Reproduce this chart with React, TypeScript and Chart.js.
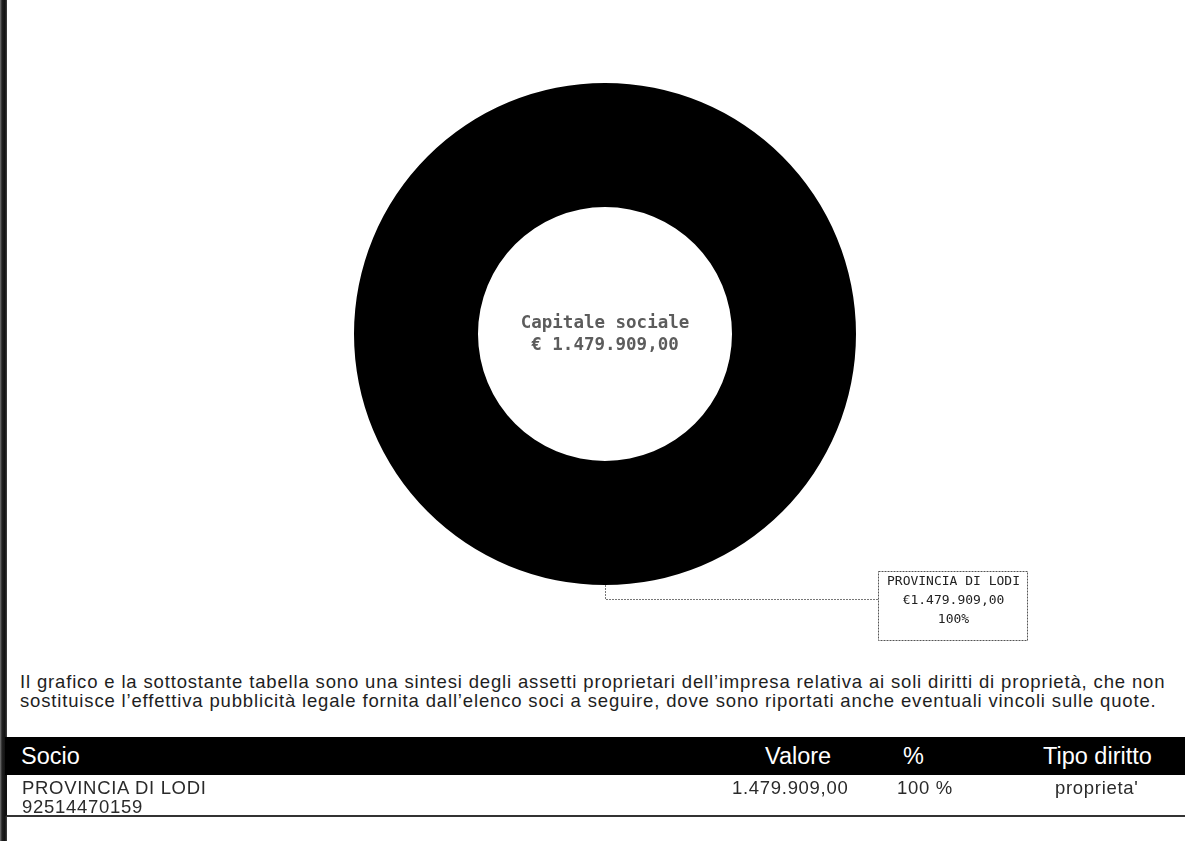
import React, { useEffect, useRef } from "react";
import { Chart, registerables } from "chart.js";

Chart.register(...registerables);

const categories: string[] = ["PROVINCIA DI LODI"];
const values: number[] = [1479909];
const percents: number[] = [100];
const taxCodes: string[] = ["92514470159"];
const rightTypes: string[] = ["proprieta'"];
const centerTitle = "Capitale sociale";
const tableHeaders: string[] = ["Socio", "Valore", "%", "Tipo diritto"];
const noteLines: string[] = [
  "Il grafico e la sottostante tabella sono una sintesi degli assetti proprietari dell’impresa relativa ai soli diritti di proprietà, che non",
  "sostituisce l’effettiva pubblicità legale fornita dall’elenco soci a seguire, dove sono riportati anche eventuali vincoli sulle quote.",
];

function fmtIt(n: number): string {
  const [i, d] = n.toFixed(2).split(".");
  return i.replace(/\B(?=(\d{3})+(?!\d))/g, ".") + "," + d;
}

const total = values.reduce((a, b) => a + b, 0);

const labelPlugin = {
  id: "labelPlugin",
  afterDraw(chart: any) {
    const ctx = chart.ctx as CanvasRenderingContext2D;
    const meta = chart.getDatasetMeta(0);
    const arc: any = meta.data[0];
    if (!arc) return;
    const { x, y } = arc;
    ctx.save();
    // center text
    ctx.fillStyle = "#5c5c5c";
    ctx.font = "bold 17.5px 'DejaVu Sans Mono'";
    ctx.textAlign = "center";
    ctx.textBaseline = "middle";
    ctx.fillText(centerTitle, x, y - 11);
    ctx.fillText("€ " + fmtIt(total), x, y + 11);

    // leader + callout for each slice
    meta.data.forEach((el: any, i: number) => {
      const mid = (el.startAngle + el.endAngle) / 2;
      const px = el.x + Math.cos(mid) * el.outerRadius;
      const py = el.y + Math.sin(mid) * el.outerRadius;
      const lineY = py + 14;
      const boxX = px + 273;
      const boxW = 149;
      const boxH = 69;
      const boxY = lineY - 28;
      ctx.strokeStyle = "#777";
      ctx.lineWidth = 1;
      ctx.setLineDash([2, 1]);
      ctx.beginPath();
      ctx.moveTo(px + 0.5, py);
      ctx.lineTo(px + 0.5, lineY + 0.5);
      ctx.lineTo(boxX, lineY + 0.5);
      ctx.stroke();
      ctx.strokeStyle = "#555";
      ctx.strokeRect(boxX + 0.5, boxY + 0.5, boxW, boxH);
      ctx.setLineDash([]);
      ctx.fillStyle = "#222";
      ctx.font = "13px 'DejaVu Sans Mono'";
      ctx.textAlign = "center";
      const cx = boxX + boxW / 2 + 1;
      ctx.fillText(categories[i], cx, boxY + 11);
      ctx.fillText("€" + fmtIt(values[i]), cx, boxY + 30);
      ctx.fillText(percents[i] + "%", cx, boxY + 49);
    });
    ctx.restore();
  },
};

function DonutChart() {
  const ref = useRef<HTMLCanvasElement | null>(null);
  useEffect(() => {
    if (!ref.current) return;
    const chart = new Chart(ref.current, {
      type: "doughnut",
      data: {
        labels: categories,
        datasets: [
          {
            data: values,
            backgroundColor: ["#000000"],
            borderWidth: 0,
          },
        ],
      },
      options: {
        responsive: false,
        animation: false,
        cutout: "50.6%",
        layout: { padding: { left: 354, right: 329, top: 83, bottom: 75 } },
        plugins: {
          legend: { display: false },
          tooltip: { enabled: false },
        },
      },
      plugins: [labelPlugin],
    });
    return () => chart.destroy();
  }, []);
  return (
    <canvas
      ref={ref}
      width={1185}
      height={660}
      style={{ position: "absolute", left: 0, top: 0, width: 1185, height: 660 }}
    />
  );
}

export default function App() {
  const font = "'Liberation Sans', Arial, sans-serif";
  return (
    <div
      style={{
        position: "fixed",
        left: 0,
        top: 0,
        width: 1185,
        height: 841,
        background: "#fff",
        overflow: "hidden",
        fontFamily: font,
      }}
    >
      <DonutChart />
      {/* scanned left edge */}
      <div
        style={{
          position: "absolute",
          left: 0,
          top: 0,
          width: 7,
          height: 841,
          background: "linear-gradient(90deg,#777 0px,#222 2px,#111 5px,#444 7px)",
        }}
      />
      <div
        style={{
          position: "absolute",
          left: 20,
          top: 672,
          fontSize: 18.5,
          letterSpacing: 0.84,
          lineHeight: "19px",
          color: "#1e1e1e",
          whiteSpace: "nowrap",
        }}
      >
        {noteLines.map((l, i) => (
          <div key={i}>{l}</div>
        ))}
      </div>
      {/* table header */}
      <div
        style={{
          position: "absolute",
          left: 5,
          top: 737,
          width: 1180,
          height: 38,
          background: "#000",
          color: "#fff",
          fontSize: 23.5,
          lineHeight: "38px",
        }}
      >
        <span style={{ position: "absolute", left: 16, top: 0 }}>{tableHeaders[0]}</span>
        <span style={{ position: "absolute", left: 760, top: 0 }}>{tableHeaders[1]}</span>
        <span style={{ position: "absolute", left: 898, top: 0 }}>{tableHeaders[2]}</span>
        <span style={{ position: "absolute", left: 1038, top: 0 }}>{tableHeaders[3]}</span>
      </div>
      {categories.map((c, i) => (
        <div
          key={i}
          style={{
            position: "absolute",
            left: 5,
            top: 775,
            width: 1180,
            height: 40,
            color: "#2a2a2a",
            fontSize: 18.5,
            letterSpacing: 0.7,
            lineHeight: "19px",
            borderLeft: "2px solid #111",
            borderBottom: "2px solid #333",
          }}
        >
          <div style={{ position: "absolute", left: 15, top: 3 }}>
            <div>{c}</div>
            <div>{taxCodes[i]}</div>
          </div>
          <span style={{ position: "absolute", left: 725, top: 3 }}>{fmtIt(values[i])}</span>
          <span style={{ position: "absolute", left: 890, top: 3 }}>{percents[i]} %</span>
          <span style={{ position: "absolute", left: 1048, top: 3 }}>{rightTypes[i]}</span>
        </div>
      ))}
    </div>
  );
}
